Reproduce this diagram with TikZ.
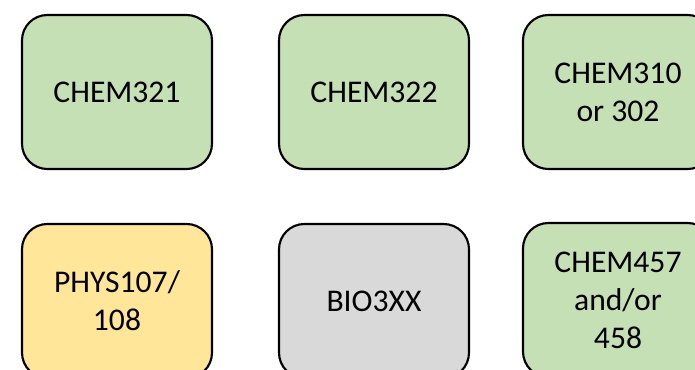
\documentclass[tikz,border=0pt]{standalone}
\usepackage{fontspec}
\setmainfont{Carlito}
\usepackage{tikz}
\usetikzlibrary{positioning}

\definecolor{chemgreen}{HTML}{C5E0B4}
\definecolor{physyellow}{HTML}{FFE699}
\definecolor{biogrey}{HTML}{D9D9D9}

\begin{document}
\begin{tikzpicture}[x=0.75pt, y=-0.75pt]
            \tikzset{every node/.style={rectangle, rounded corners=19pt, draw=black, line width=1.6pt,
                        minimum width=142.5pt, minimum height=115.5pt, align=center,
                        font=\fontsize{23.7pt}{28.5pt}\selectfont},
                    chem/.style={fill=chemgreen},
                    phys/.style={fill=physyellow},
                    bio/.style={fill=biogrey}}
            \useasboundingbox (0,0) rectangle (695,369);
            \clip (0,0) rectangle (695,369);
            \node[chem] (1) at (117, 92) {CHEM321};
            \node[chem] (2) at (374, 92) {CHEM322};
            \node[chem] (3) at (618, 92) {CHEM310\\or 302};
            \node[phys] (4) at (117, 301) {PHYS107/\\108};
            \node[bio] (5) at (374, 301) {BIO3XX};
            \node[chem] (6) at (618, 300) {CHEM457\\and/or\\458};
        \end{tikzpicture}
\end{document}
